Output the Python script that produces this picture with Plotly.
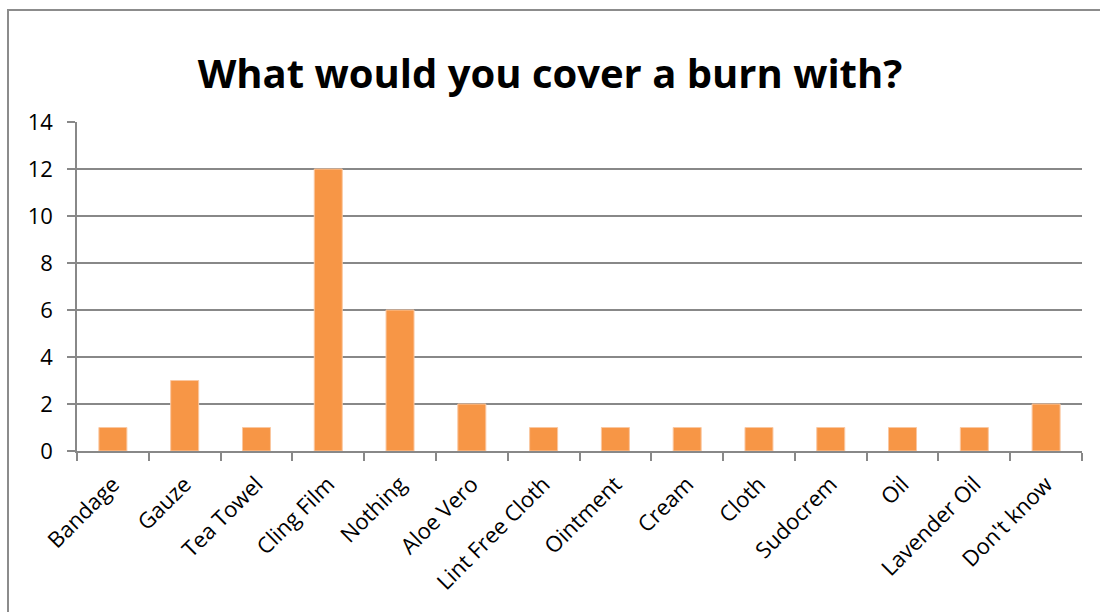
import plotly.graph_objects as go

categories = ["Bandage", "Gauze", "Tea Towel", "Cling Film", "Nothing", "Aloe Vero",
              "Lint Free Cloth", "Ointment", "Cream", "Cloth", "Sudocrem", "Oil",
              "Lavender Oil", "Don't know"]
values = [1, 3, 1, 12, 6, 2, 1, 1, 1, 1, 1, 1, 1, 2]
y_ticks = [0, 2, 4, 6, 8, 10, 12, 14]
title_text = "What would you cover a burn with?"

L, R, T, B = 77, 18, 122, 161
W, H = 1100, 612
pw, ph = W - L - R, H - T - B

fig = go.Figure()
fig.add_trace(go.Bar(
    x=categories, y=values,
    marker=dict(color="#F79646", line=dict(color="#FAC7A0", width=1)),
    width=0.39,
))

grid = "#888888"
fig.update_layout(
    width=W, height=H,
    margin=dict(l=L, r=R, t=T, b=B),
    paper_bgcolor="white", plot_bgcolor="white",
    showlegend=False,
    font=dict(family="Open Sans", color="black"),
    title=dict(text="<b>" + title_text + "</b>", x=0.5, xanchor="center",
               y=1 - 74 / H, yanchor="middle",
               font=dict(family="Open Sans", size=40, color="black")),
    xaxis=dict(
        type="category", tickangle=-45, tickson="boundaries",
        ticks="outside", ticklen=8, tickcolor=grid, tickwidth=1.5,
        showline=True, linecolor=grid, linewidth=1.5,
        showgrid=False,
        tickfont=dict(size=22, family="Open Sans"),
        ticklabelstandoff=10,
        range=[-0.5, len(categories) - 0.5],
    ),
    yaxis=dict(
        range=[0, 14], tickvals=y_ticks,
        ticks="outside", ticklen=8, tickcolor=grid, tickwidth=1.5,
        showline=True, linecolor=grid, linewidth=1.5,
        showgrid=True, gridcolor=grid, gridwidth=1.5,
        zeroline=False,
        tickfont=dict(size=22, family="Open Sans"),
        ticklabelstandoff=10,
    ),
    shapes=[dict(
        type="rect", xref="paper", yref="paper",
        x0=(8 - L) / pw, x1=1.2,
        y0=-1.0, y1=1 + (T - 10) / ph,
        line=dict(color="#8C8C8C", width=2), fillcolor="rgba(0,0,0,0)",
        layer="below",
    )],
)

fig.write_html("out.html")
